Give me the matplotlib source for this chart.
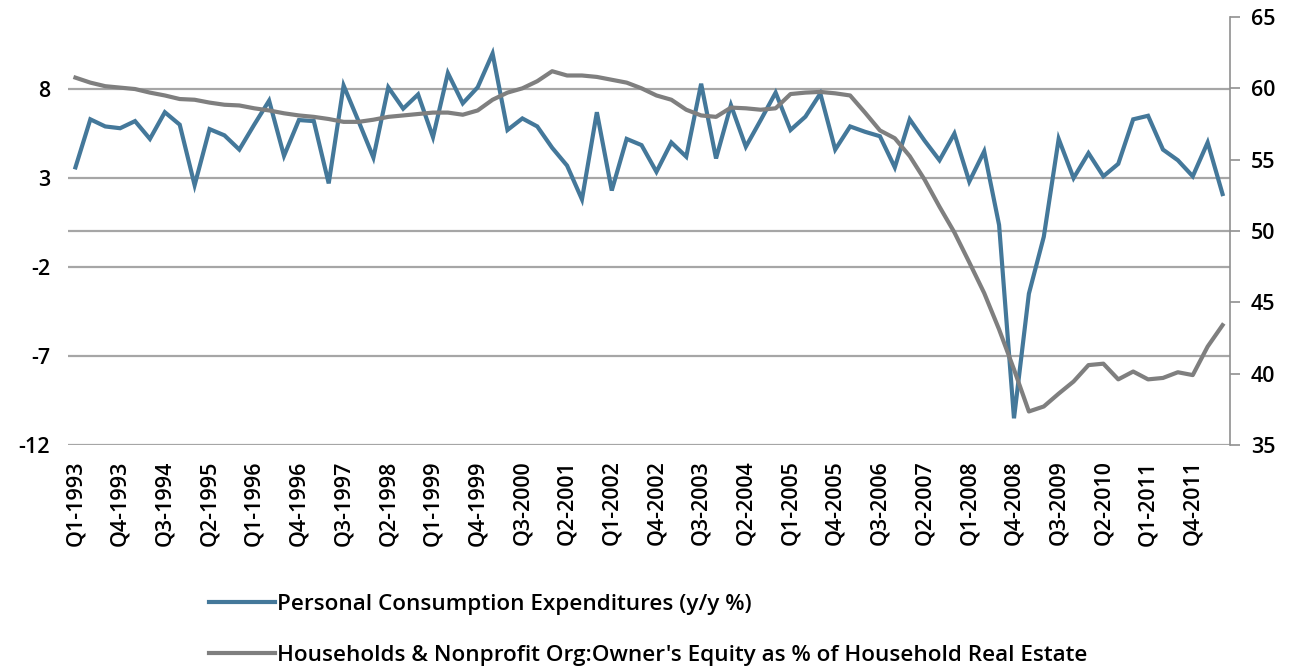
import matplotlib
matplotlib.use("Agg")
import matplotlib.pyplot as plt
import numpy as np

# quarters Q1-1993 .. Q2-2012
years = list(range(1993, 2013))
quarters = [f"Q{q}-{y}" for y in years for q in range(1, 5)][:78]

pce = [3.6, 6.3, 5.9, 5.8, 6.2, 5.2, 6.7, 6.0, 2.6, 5.75,
       5.4, 4.6, 6.0, 7.35, 4.25, 6.26, 6.2, 2.7, 8.2, 6.2,
       4.15, 8.1, 6.9, 7.7, 5.3, 8.9, 7.2, 8.1, 10.0, 5.7,
       6.35, 5.9, 4.7, 3.7, 1.8, 6.7, 2.3, 5.2, 4.85, 3.35,
       5.0, 4.2, 8.3, 4.1, 7.1, 4.76, 6.26, 7.8, 5.7, 6.45,
       7.75, 4.6, 5.9, 5.6, 5.35, 3.6, 6.3, 5.1, 4.0, 5.5,
       2.8, 4.5, 0.36, -10.5, -3.5, -0.3, 5.2, 3.0, 4.4, 3.1,
       3.8, 6.3, 6.5, 4.6, 4.0, 3.1, 5.0, 2.1]

equity = [60.75, 60.4, 60.15, 60.05, 59.95, 59.7, 59.5, 59.25, 59.2, 59.0,
          58.85, 58.8, 58.6, 58.45, 58.25, 58.1, 58.0, 57.85, 57.65, 57.65,
          57.8, 58.0, 58.1, 58.2, 58.3, 58.3, 58.15, 58.45, 59.2, 59.7,
          60.0, 60.5, 61.2, 60.9, 60.9, 60.8, 60.6, 60.4, 60.0, 59.5,
          59.2, 58.5, 58.1, 58.0, 58.65, 58.6, 58.5, 58.6, 59.6, 59.7,
          59.75, 59.65, 59.5, 58.3, 57.05, 56.5, 55.25, 53.6, 51.7, 49.9,
          47.8, 45.65, 43.1, 40.3, 37.35, 37.7, 38.6, 39.45, 40.6, 40.7,
          39.6, 40.15, 39.6, 39.7, 40.1, 39.9, 41.9, 43.4]

left_ticks = [-12, -7, -2, 3, 8]
right_ticks = [35, 40, 45, 50, 55, 60, 65]

label1 = "Personal Consumption Expenditures (y/y %)"
label2 = "Households & Nonprofit Org:Owner's Equity as % of Household Real Estate"

blue = "#44789a"
gray = "#7f7f7f"
grid_c = "#a6a6a6"

plt.rcParams['font.family'] = ['Open Sans', 'DejaVu Sans']
TS = 15.5   # tick label size
LS = 16.2   # legend size

fig = plt.figure(figsize=(12.95, 6.68), dpi=100)
ax = fig.add_axes([68/1295, 1-445/668, (1230-68)/1295, (445-17)/668])
x = np.arange(len(quarters))

ax.set_xlim(-0.5, len(quarters) - 0.5)
ax.set_ylim(-12, 12.05)
for t in left_ticks:
    ax.axhline(t, color=grid_c, lw=1.6, zorder=1)
ax.axhline(0, color=grid_c, lw=1.6, zorder=1)
l1, = ax.plot(x, pce, color=blue, lw=3.0, solid_joinstyle='miter', zorder=3, label=label1)
ax.set_yticks(left_ticks)
ax.set_yticklabels([str(t) for t in left_ticks])
ax.tick_params(axis='y', length=0, pad=13, labelsize=TS)
for lab in ax.get_yticklabels():
    lab.set_fontweight('semibold')
ax.set_xticks(x[::3])
ax.set_xticklabels(quarters[::3], rotation=90, fontsize=TS, fontweight='semibold')
ax.tick_params(axis='x', length=0, pad=11)
for s in ax.spines.values():
    s.set_visible(False)

ax2 = ax.twinx()
ax2.set_ylim(35, 65)
l2, = ax2.plot(x, equity, color=gray, lw=3.0, zorder=3, label=label2)
ax2.set_yticks(right_ticks)
ax2.set_yticklabels([str(t) for t in right_ticks])
ax2.tick_params(axis='y', direction='out', length=7, width=1.2, color="#909090",
                pad=8, labelsize=TS)
for lab in ax2.get_yticklabels():
    lab.set_fontweight('semibold')
for k, s in ax2.spines.items():
    s.set_visible(k == 'right')
ax2.spines['right'].set_color("#909090")
ax2.spines['right'].set_linewidth(1.2)

fig.legend(handles=[l1, l2], loc='upper left', bbox_to_anchor=(198/1295, 1-583/668),
           frameon=False, handlelength=2.9, handletextpad=0.1,
           labelspacing=1.33, borderpad=0, prop={'weight': 'semibold', 'size': LS})

fig.savefig("out.png", dpi=100, facecolor='white')
